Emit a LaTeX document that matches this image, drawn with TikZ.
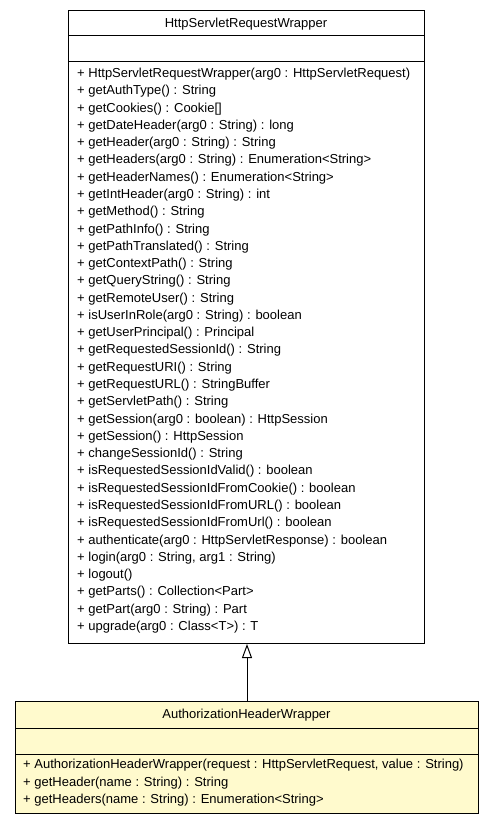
\documentclass[tikz,border=0pt]{standalone}
\usepackage{fontspec}
\setmainfont{Liberation Sans}
\usetikzlibrary{arrows.meta}
\definecolor{umlfill}{HTML}{FFFACD}
\begin{document}
\begin{tikzpicture}[x=1pt,y=-1pt,
  box/.style={draw=black, line width=1pt, inner sep=0pt, anchor=north west},
  member/.style={anchor=base west, inner sep=0pt, font=\fontsize{13}{15}\selectfont},
  ctitle/.style={anchor=base, inner sep=0pt, font=\fontsize{13}{15}\selectfont},
  sep/.style={draw=black, line width=1pt},
  inherit/.style={draw=black, line width=1pt, -{Triangle[open, length=14pt, width=10pt, line width=1pt]}}]
\useasboundingbox (0,0) rectangle (493,824);
% superclass
\node[box, fill=white, minimum width=356pt, minimum height=633pt] (sup) at (68,10) {};
\draw[sep] ([yshift=-26pt]sup.north west) -- ([yshift=-26pt]sup.north east);
\draw[sep] ([yshift=-52pt]sup.north west) -- ([yshift=-52pt]sup.north east);
\node[ctitle] (suptitle) at (246,27.5) {HttpServletRequestWrapper};
\foreach \t [count=\i] in {
 {+ HttpServletRequestWrapper(arg0 : HttpServletRequest)},
 {+ getAuthType() : String},
 {+ getCookies() : Cookie[]},
 {+ getDateHeader(arg0 : String) : long},
 {+ getHeader(arg0 : String) : String},
 {+ getHeaders(arg0 : String) : Enumeration<String>},
 {+ getHeaderNames() : Enumeration<String>},
 {+ getIntHeader(arg0 : String) : int},
 {+ getMethod() : String},
 {+ getPathInfo() : String},
 {+ getPathTranslated() : String},
 {+ getContextPath() : String},
 {+ getQueryString() : String},
 {+ getRemoteUser() : String},
 {+ isUserInRole(arg0 : String) : boolean},
 {+ getUserPrincipal() : Principal},
 {+ getRequestedSessionId() : String},
 {+ getRequestURI() : String},
 {+ getRequestURL() : StringBuffer},
 {+ getServletPath() : String},
 {+ getSession(arg0 : boolean) : HttpSession},
 {+ getSession() : HttpSession},
 {+ changeSessionId() : String},
 {+ isRequestedSessionIdValid() : boolean},
 {+ isRequestedSessionIdFromCookie() : boolean},
 {+ isRequestedSessionIdFromURL() : boolean},
 {+ isRequestedSessionIdFromUrl() : boolean},
 {+ authenticate(arg0 : HttpServletResponse) : boolean},
 {+ login(arg0 : String, arg1 : String)},
 {+ logout()},
 {+ getParts() : Collection<Part>},
 {+ getPart(arg0 : String) : Part},
 {+ upgrade(arg0 : Class<T>) : T}}
 { \node[member] (sm\i) at (77,{77.5+(\i-1)*17.28}) {\t}; }
% subclass
\node[box, fill=umlfill, minimum width=463pt, minimum height=112pt] (sub) at (15,701) {};
\draw[sep] ([yshift=-27pt]sub.north west) -- ([yshift=-27pt]sub.north east);
\draw[sep] ([yshift=-53pt]sub.north west) -- ([yshift=-53pt]sub.north east);
\node[ctitle] (subtitle) at (246.5,718.5) {AuthorizationHeaderWrapper};
\node[member] (bm1) at (23,768.5) {+ AuthorizationHeaderWrapper(request : HttpServletRequest, value : String)};
\node[member] (bm2) at (23,786) {+ getHeader(name : String) : String};
\node[member] (bm3) at (23,803.5) {+ getHeaders(name : String) : Enumeration<String>};
% generalization
\draw[inherit] (sub.north) -- (sub.north |- sup.south);
\end{tikzpicture}
\end{document}
